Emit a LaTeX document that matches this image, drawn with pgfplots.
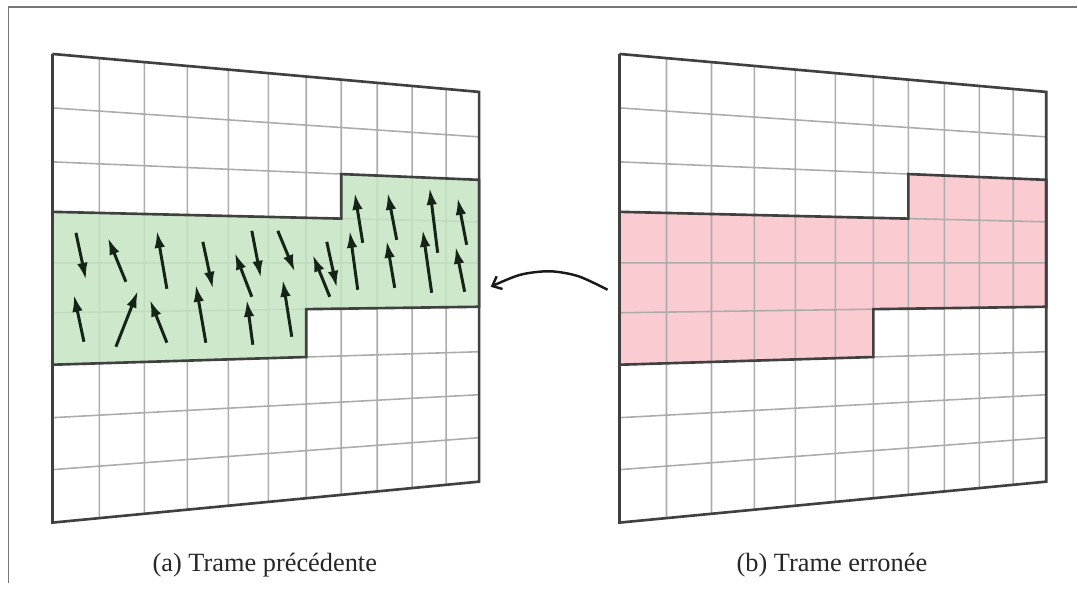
\documentclass[border=0pt]{standalone}
\usepackage{fontspec}
\setmainfont{Liberation Serif}
\usepackage{pgfplots}
\usepackage{pgfplotstable}
\pgfplotsset{compat=1.18}
\usetikzlibrary{arrows.meta}

\definecolor{zonegreen}{RGB}{196,228,194}
\definecolor{zonepink}{RGB}{250,204,210}
\definecolor{outline}{RGB}{64,64,64}
\definecolor{gridgray}{RGB}{172,172,172}
\definecolor{framegray}{RGB}{120,120,120}
\definecolor{vec}{RGB}{22,36,24}

% grid of one panel, x measured from the panel's left edge
\pgfplotstableread{
x y
47 58.2
47 518.5
nan nan
92 62.2
92 514.2
nan nan
135 66.0
135 510.0
nan nan
176 69.7
176 506.1
nan nan
216 73.2
216 502.3
nan nan
254 76.6
254 498.6
nan nan
289 79.7
289 495.2
nan nan
325 82.9
325 491.8
nan nan
360 86.0
360 488.4
nan nan
394 89.1
394 485.2
nan nan
0 108
427 137
nan nan
0 162
427 180
nan nan
0 212
427 222
nan nan
0 263
427 263
nan nan
0 313
427 307
nan nan
0 365
427 352
nan nan
0 418
427 395
nan nan
0 470
427 438
}\gridlines

\pgfplotstableread{
x y
0 54
427 92
427 482
0 523
0 54
}\border

% moving region (same cells in both frames)
\pgfplotstableread{
x y
0 212
289 218.8
289 174.2
427 180
427 307
254 309.4
254 357.3
0 365
0 212
}\zone

% motion vectors: tail x, tail y, dx, dy (pixels)
\pgfplotstableread{
x y u v
76 233 10 47
126 282 -18 -44
167 289 -10 -58
84 342 -10 -47
116 347 22 -56
167 343 -17 -43
203 242 10 47
206 343 -10 -58
252 297 -17 -44
252 231 9 47
253 345 -6 -45
278 231 17 41
292 337 -9 -57
330 297 -17 -42
327 242 10 46
363 243 -8 -50
358 290 -8 -59
397 240 -9 -47
395 288 -8 -47
438 253 -8 -65
432 293 -9 -63
467 245 -9 -47
465 292 -9 -45
}\motion

\begin{document}
\begin{tikzpicture}
\begin{axis}[
  scale only axis,
  width=10.78cm, height=5.83cm,
  xmin=0, xmax=1078, ymin=0, ymax=583,
  y dir=reverse,
  hide axis, clip=false,
  unbounded coords=jump
]
\addplot[draw=none, forget plot] coordinates {(0,0) (1078,583)};

% outer frame
\addplot[framegray, line width=0.45pt] coordinates {(1078,7) (8.5,7) (8.5,583)};

% (a) previous frame
\addplot[gridgray, line width=0.45pt] table[x expr=\thisrow{x}+52.5] {\gridlines};
\addplot[fill=zonegreen, fill opacity=0.85, draw=none] table[x expr=\thisrow{x}+52.5] {\zone};
\addplot[outline, line width=0.75pt] table[x expr=\thisrow{x}+52.5] {\border};
\addplot[outline, line width=0.75pt] table[x expr=\thisrow{x}+52.5] {\zone};
\addplot[vec, line width=0.85pt, -{Latex[length=1.7mm,width=1.05mm]},
  quiver={u=\thisrow{u}, v=\thisrow{v}}] table {\motion};

% (b) corrupted frame
\addplot[fill=zonepink, draw=none] table[x expr=\thisrow{x}+620] {\zone};
\addplot[gridgray, line width=0.45pt] table[x expr=\thisrow{x}+620] {\gridlines};
\addplot[outline, line width=0.75pt] table[x expr=\thisrow{x}+620] {\border};
\addplot[outline, line width=0.75pt] table[x expr=\thisrow{x}+620] {\zone};

% curved arrow between the frames
\addplot[black!90, line width=0.7pt, smooth, -{Straight Barb[length=0.8mm,width=1.4mm]}]
  coordinates {(608,290) (579,276.5) (550.5,271.5) (520.6,275) (491,287)};

\node[anchor=base, font=\fontsize{7.5}{9}\selectfont, text=black!85]
  at (axis cs:265,572) {(a) Trame précédente};
\node[anchor=base, font=\fontsize{7.5}{9}\selectfont, text=black!85]
  at (axis cs:832.5,572) {(b) Trame erronée};
\end{axis}
\end{tikzpicture}
\end{document}
